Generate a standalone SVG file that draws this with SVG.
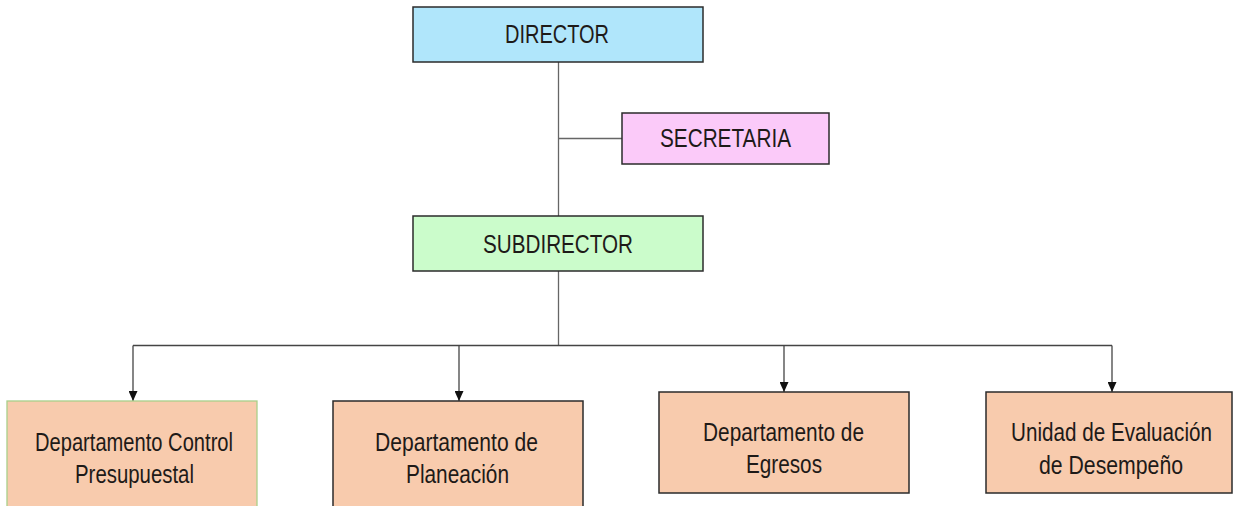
<svg xmlns="http://www.w3.org/2000/svg" width="1234" height="506" viewBox="0 0 1234 506">
<defs>
<marker id="arr" markerWidth="10" markerHeight="9" refX="10" refY="4.5" orient="auto" markerUnits="userSpaceOnUse" viewBox="0 0 10 9">
<path d="M0,0 L10,4.5 L0,9 Z" fill="#111"/>
</marker>
<style>
.box{stroke:#2b2b2b;stroke-width:1.5}
.t{font-family:"Liberation Sans",Arial,sans-serif;font-size:25px;fill:#1e1a18;text-anchor:middle}
.ln{stroke:#666;stroke-width:1.3;fill:none}
.bus{stroke:#444;stroke-width:1.3;fill:none}
</style>
</defs>
<rect width="1234" height="506" fill="#fff"/>
<g id="connectors">
<line class="ln" x1="558.5" y1="62" x2="558.5" y2="216"/>
<line class="ln" x1="558.5" y1="138.5" x2="622" y2="138.5"/>
<line class="ln" x1="558.5" y1="271" x2="558.5" y2="345.5"/>
<line class="bus" x1="133" y1="345.5" x2="1112" y2="345.5"/>
<line class="bus" x1="133" y1="345.5" x2="133" y2="401" marker-end="url(#arr)"/>
<line class="bus" x1="459" y1="345.5" x2="459" y2="401" marker-end="url(#arr)"/>
<line class="bus" x1="784" y1="345.5" x2="784" y2="392" marker-end="url(#arr)"/>
<line class="bus" x1="1112" y1="345.5" x2="1112" y2="392" marker-end="url(#arr)"/>
</g>
<g id="director">
<rect class="box" x="413" y="7" width="290" height="55" fill="#b0e6fb"/>
<text class="t" x="557" y="43" textLength="104" lengthAdjust="spacingAndGlyphs">DIRECTOR</text>
</g>
<g id="secretaria">
<rect class="box" x="622" y="113" width="207" height="51" fill="#fbcaf9"/>
<text class="t" x="725.5" y="147" textLength="131" lengthAdjust="spacingAndGlyphs">SECRETARIA</text>
</g>
<g id="subdirector">
<rect class="box" x="413" y="216" width="290" height="55" fill="#cbfccb"/>
<text class="t" x="558" y="253" textLength="150" lengthAdjust="spacingAndGlyphs">SUBDIRECTOR</text>
</g>
<g id="control">
<rect x="7" y="401" width="250" height="110" fill="#f8cbad" stroke="#a9cf8a" stroke-width="1.3"/>
<text class="t" x="134" y="451" textLength="198" lengthAdjust="spacingAndGlyphs">Departamento Control</text>
<text class="t" x="134.5" y="483" textLength="119" lengthAdjust="spacingAndGlyphs">Presupuestal</text>
</g>
<g id="planeacion">
<rect class="box" x="333" y="401" width="250" height="110" fill="#f8cbad"/>
<text class="t" x="456.5" y="451" textLength="163" lengthAdjust="spacingAndGlyphs">Departamento de</text>
<text class="t" x="457.5" y="483" textLength="103" lengthAdjust="spacingAndGlyphs">Planeación</text>
</g>
<g id="egresos">
<rect class="box" x="659" y="392" width="250" height="101" fill="#f8cbad"/>
<text class="t" x="783.5" y="441" textLength="161" lengthAdjust="spacingAndGlyphs">Departamento de</text>
<text class="t" x="784" y="473" textLength="76" lengthAdjust="spacingAndGlyphs">Egresos</text>
</g>
<g id="evaluacion">
<rect class="box" x="986" y="392" width="246" height="101" fill="#f8cbad"/>
<text class="t" x="1111.5" y="441" textLength="201" lengthAdjust="spacingAndGlyphs">Unidad de Evaluación</text>
<text class="t" x="1111" y="474" textLength="144" lengthAdjust="spacingAndGlyphs">de Desempeño</text>
</g>
</svg>
